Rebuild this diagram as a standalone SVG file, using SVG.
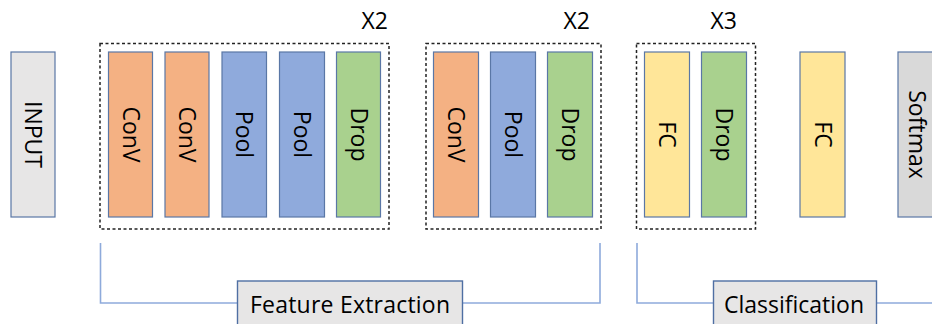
<svg xmlns="http://www.w3.org/2000/svg" width="932" height="324" viewBox="0 0 932 324">
<style>
.n{stroke:#5A77A6;stroke-width:1.2}
.conv{fill:#F4B183}.pool{fill:#8FAADC}.drop{fill:#A9D18E}.fc{fill:#FFE699}.in{fill:#E7E6E6}.sm{fill:#D9D9D9}
.t{font-family:"Open Sans","Noto Sans",sans-serif;font-size:23px;fill:#000;text-anchor:middle}
.grp{fill:none;stroke:#222;stroke-width:1.5;stroke-dasharray:3 2.5}
.br{fill:none;stroke:#8EAADB;stroke-width:1.6}
.lab{fill:#E7E6E6;stroke:#4F6FA3;stroke-width:1.4}
</style>
<g id="groups">
<rect class="grp" x="100" y="43.5" width="289" height="185.5"/>
<rect class="grp" x="426" y="43.5" width="175" height="185.5"/>
<rect class="grp" x="636.5" y="43.5" width="119" height="185.5"/>
<text class="t" x="388" y="29" style="text-anchor:end">X2</text>
<text class="t" x="590" y="29" style="text-anchor:end">X2</text>
<text class="t" x="737" y="29" style="text-anchor:end">X3</text>
</g>
<g id="connectors">
<path class="br" d="M100.5,243 V303 H600 V243"/>
<path class="br" d="M637,243 V303 H932"/>
</g>
<g id="input"><rect class="n in" x="11" y="52" width="44" height="165"/><text class="t" transform="rotate(90 33 134.5)" x="33" y="142.5">INPUT</text></g>
<g id="conv1"><rect class="n conv" x="108.5" y="52" width="44" height="165"/><text class="t" transform="rotate(90 130.5 134.5)" x="130.5" y="142.5">ConV</text></g>
<g id="conv2"><rect class="n conv" x="165" y="52" width="44" height="165"/><text class="t" transform="rotate(90 187 134.5)" x="187" y="142.5">ConV</text></g>
<g id="pool1"><rect class="n pool" x="222" y="52" width="44.5" height="165"/><text class="t" transform="rotate(90 244.3 134.5)" x="244.3" y="142.5">Pool</text></g>
<g id="pool2"><rect class="n pool" x="279.5" y="52" width="45" height="165"/><text class="t" transform="rotate(90 302 134.5)" x="302" y="142.5">Pool</text></g>
<g id="drop1"><rect class="n drop" x="336.5" y="52" width="44" height="165"/><text class="t" transform="rotate(90 358.5 134.5)" x="358.5" y="142.5">Drop</text></g>
<g id="conv3"><rect class="n conv" x="433.5" y="52" width="45" height="165"/><text class="t" transform="rotate(90 456 134.5)" x="456" y="142.5">ConV</text></g>
<g id="pool3"><rect class="n pool" x="490.5" y="52" width="45" height="165"/><text class="t" transform="rotate(90 513 134.5)" x="513" y="142.5">Pool</text></g>
<g id="drop2"><rect class="n drop" x="547.5" y="52" width="45" height="165"/><text class="t" transform="rotate(90 570 134.5)" x="570" y="142.5">Drop</text></g>
<g id="fc1"><rect class="n fc" x="644.5" y="52" width="45" height="165"/><text class="t" transform="rotate(90 667 134.5)" x="667" y="142.5">FC</text></g>
<g id="drop3"><rect class="n drop" x="701.5" y="52" width="45" height="165"/><text class="t" transform="rotate(90 724 134.5)" x="724" y="142.5">Drop</text></g>
<g id="fc2"><rect class="n fc" x="800" y="52" width="45" height="165"/><text class="t" transform="rotate(90 822.5 134.5)" x="822.5" y="142.5">FC</text></g>
<g id="softmax"><rect class="n sm" x="898" y="52" width="45" height="165"/><text class="t" transform="rotate(90 916.5 134.5)" x="916.5" y="142.5">Softmax</text></g>
<g id="feature-extraction"><rect class="lab" x="237.5" y="281" width="225" height="50"/><text class="t" x="350" y="313" textLength="200">Feature Extraction</text></g>
<g id="classification"><rect class="lab" x="713.5" y="281" width="163" height="50"/><text class="t" x="794" y="313">Classification</text></g>
</svg>
